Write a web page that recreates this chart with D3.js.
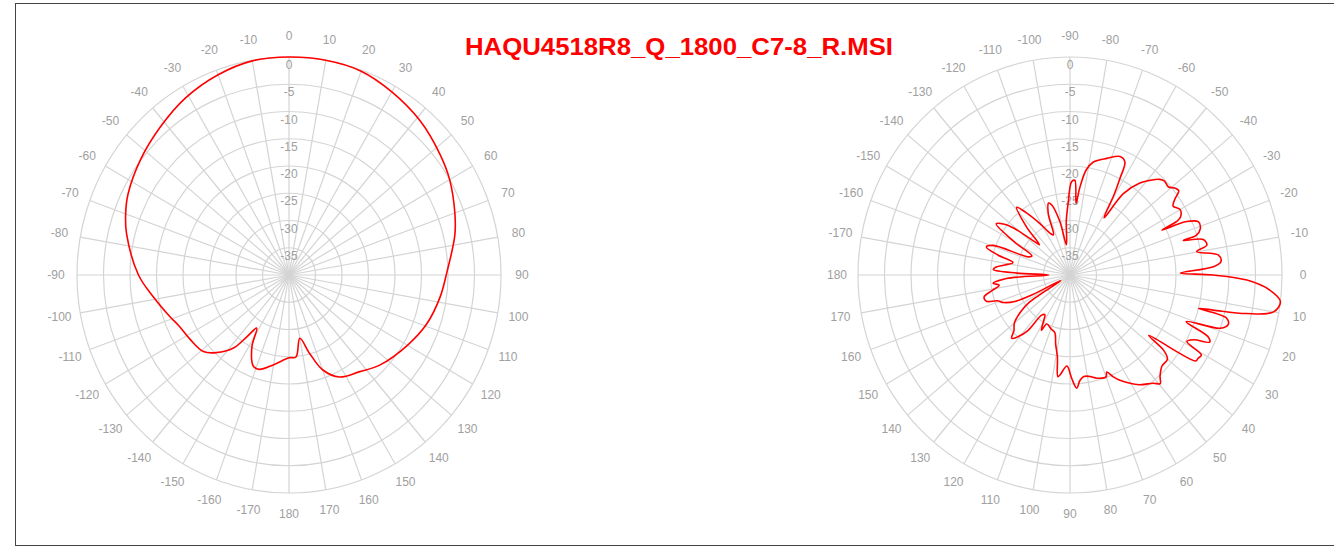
<!DOCTYPE html>
<html>
<head>
<meta charset="utf-8">
<script src="https://cdn.jsdelivr.net/npm/d3@7"></script>
<style>
body { margin: 0; background: #fff; }
svg text { font-family: "Liberation Sans", Arial, sans-serif; }
</style>
</head>
<body>
<svg id="chart" width="1334" height="548"></svg>
<script>
var chartTitle = "HAQU4518R8_Q_1800_C7-8_R.MSI";
var ringLevels = [0, -5, -10, -15, -20, -25, -30, -35];
var spokeAngles = d3.range(0, 360, 10);

// horizontal pattern (left), angle in degrees clockwise from top, gain in dB
var hAngles = [-180, -170, -162, -158, -152, -148, -145, -142, -136, -131, -122, -114, -109, -99, -90,
    -76, -70, -64, -53, -42, -31, -20, -10, 0, 10, 20, 30, 41, 52, 60, 70, 77, 89, 98, 109, 120,
    134, 143, 153, 160, 165, 170, 175];
var hGain = [-24.8, -23.3, -21.8, -22.0, -25.1, -28.5, -26.2, -23.0, -20.2, -18.6, -17.9, -17.2, -16.3, -14.1, -11.6,
    -8.4, -7.2, -6.2, -4.9, -3.6, -2.1, -0.9, -0.1, 0, 0, -0.2, -1.2, -2.4, -3.9, -5.0, -6.7, -7.9, -10.2, -11.2, -12.5, -14.2,
    -16.2, -17.8, -19.0, -21.5, -25.2, -28.2, -24.9];

// vertical pattern (right), label angle (0 = right, 90 = bottom), gain in dB
var vAngles = [-180, -178, -176, -174, -171.5, -168, -165, -162, -159.5, -157, -154, -150, -146, -143, -141, -138,
    -136, -133, -129, -126, -121, -116, -113, -110, -107, -105, -101, -97, -94, -91.5, -89, -87, -85, -83.5, -81,
    -78, -72, -66.5, -63.5, -62, -60.5, -58.5, -56, -52, -49, -46, -44, -41, -39, -37, -35, -33, -30, -27, -26,
    -25.4, -24, -22, -19, -17, -16.5, -14.5, -12, -10.2, -7.5, -5, -3.2, -1, 0, 1.6, 4.2, 7, 10, 12, 13.4, 14.2,
    15, 17, 19, 21.3, 23.5, 25, 27, 29, 30.6, 32.3, 33.6, 36.7, 38, 40, 44, 47.6, 49.5, 51.7, 57, 64, 66.4, 68.7,
    70, 75, 78.6, 82, 84.4, 86.5, 89, 92, 95.8, 97, 99, 102, 105, 110, 116, 118, 121, 123, 126, 128, 131, 133.5,
    136, 140, 144, 147, 150, 153, 155, 158, 161, 163, 166, 169, 172, 174, 177];
var vGain = [-36, -30, -25.5, -26, -27.6, -29, -26, -23.4, -24.5, -31.5, -32, -28, -23.2, -24.5, -26.3, -30.5,
    -32, -28, -24, -25.8, -29, -31.5, -32, -28, -26.2, -26.7, -30, -34.4, -30, -26.8, -22.9, -22.6, -26.8, -24, -20.5,
    -18.8, -17.5, -16.3, -16.8, -19.9, -23.2, -27.7, -22, -18.6, -17, -15.6, -15.2, -15.4, -14.6, -14.3, -15.9, -16.8, -16, -16.6, -17.6,
    -20.8, -15.9, -13.9, -14, -15.1, -17.7, -14, -13.6, -15.7, -11.8, -11.4, -12.9, -19.2, -13, -6.6, -2.2, 0, -1, -6, -12.2, -15,
    -9.4, -8.8, -10, -16.5, -11.6, -10.9, -13.8, -14.8, -11.2, -11.4, -11.5, -21.5, -17.6, -16, -15.9, -14.8, -13.8, -14.7, -16, -18.5, -19.6, -20.9,
    -20.1, -20.4, -21, -21.2, -20.6, -19.2, -21, -23.3, -21.6, -21.2, -24.8, -27, -29, -29.5, -30, -28.5, -30.5, -31.3, -30.9, -27, -25, -24,
    -25.3, -26.3, -28.5, -31, -38, -32, -28.5, -26.5, -25.5, -23.5, -23.3, -25, -26.5, -25.4, -28];

var svg = d3.select('#chart');
var rx = 212, ry = 218;

svg.append('rect')
    .attr('x', 15.5).attr('y', 3.5)
    .attr('width', 1330).attr('height', 542)
    .attr('fill', 'none')
    .attr('stroke', '#444')
    .attr('stroke-width', 1);

// dB -> fraction of outer ring
var rScale = d3.scaleLinear().domain([-40, 0]).range([0, 1]).clamp(true);

function polarChart(cx, cy, angles, gains, toPhi, labelOf) {
    var g = svg.append('g');

    function pt(phiDeg, f, ex) {
        var a = phiDeg * Math.PI / 180;
        ex = ex || 0;
        return [cx + (rx * f + ex) * Math.sin(a), cy - (ry * f + ex) * Math.cos(a)];
    }

    g.selectAll('.ring')
        .data(ringLevels)
        .enter().append('ellipse')
        .attr('cx', cx).attr('cy', cy)
        .attr('rx', d => rx * rScale(d))
        .attr('ry', d => ry * rScale(d))
        .attr('fill', 'none')
        .attr('stroke', '#d4d4d4')
        .attr('stroke-width', 1.2);

    g.selectAll('.spoke')
        .data(spokeAngles)
        .enter().append('line')
        .attr('x1', cx).attr('y1', cy)
        .attr('x2', d => pt(d, 1)[0])
        .attr('y2', d => pt(d, 1)[1])
        .attr('stroke', '#d4d4d4')
        .attr('stroke-width', 1.2);

    g.selectAll('.ringLabel')
        .data(ringLevels)
        .enter().append('text')
        .attr('x', cx)
        .attr('y', d => cy - ry * rScale(d) + 12)
        .attr('text-anchor', 'middle')
        .attr('font-size', 12)
        .attr('fill', '#a0a0a0')
        .text(d => d);

    g.selectAll('.angleLabel')
        .data(spokeAngles)
        .enter().append('text')
        .attr('x', d => pt(d, 1, 21)[0])
        .attr('y', d => pt(d, 1, 21)[1])
        .attr('text-anchor', 'middle')
        .attr('dominant-baseline', 'central')
        .attr('font-size', 12)
        .attr('fill', '#a0a0a0')
        .text(labelOf);

    var pts = angles.map((a, i) => pt(toPhi(a), rScale(gains[i])));
    var line = d3.line().curve(d3.curveCatmullRomClosed.alpha(0.5));

    g.append('path')
        .attr('d', line(pts))
        .attr('fill', 'none')
        .attr('stroke', '#ff0000')
        .attr('stroke-width', 1.6);
}

polarChart(289, 275, hAngles, hGain,
    a => a,
    d => d <= 180 ? d : d - 360);

polarChart(1070, 275, vAngles, vGain,
    a => a + 90,
    d => { var v = d - 90; return v > 180 ? v - 360 : v; });

svg.append('text')
    .attr('x', 679)
    .attr('y', 55)
    .attr('text-anchor', 'middle')
    .attr('font-size', 24)
    .attr('font-weight', 'bold')
    .attr('fill', '#ff0000')
    .attr('textLength', 428)
    .attr('lengthAdjust', 'spacingAndGlyphs')
    .text(chartTitle);
</script>
</body>
</html>
